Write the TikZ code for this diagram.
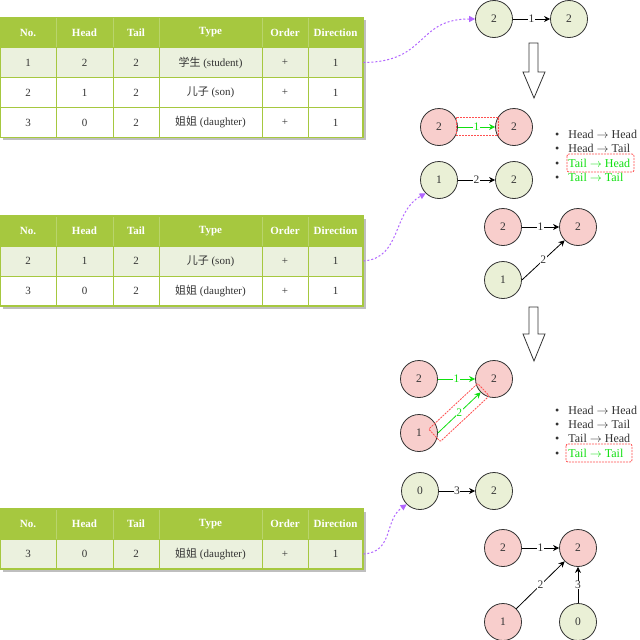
\documentclass[tikz,border=0pt]{standalone}
\usepackage{fontspec}
\setmainfont{Liberation Serif}
\newfontfamily\cjk{Noto Sans CJK SC}
\usetikzlibrary{arrows.meta,calc}
\definecolor{hdrgreen}{HTML}{A6C83F}
\definecolor{hdrline}{HTML}{B9D46C}
\definecolor{linegreen}{HTML}{A6C83F}
\definecolor{rowgreen}{HTML}{EBF1DE}
\definecolor{nodegreen}{HTML}{EAF0D6}
\definecolor{nodepink}{HTML}{F8CECC}
\definecolor{purp}{HTML}{B266FF}
\definecolor{brightgreen}{HTML}{11E011}
\definecolor{txtgray}{HTML}{333333}
\definecolor{boxred}{HTML}{FF5050}
\tikzset{
  cell/.style={rectangle, draw=linegreen, line width=0.8pt, minimum height=30pt, inner sep=0pt, font=\fontsize{11}{13}\selectfont, text=txtgray},
  hdr/.style={cell, draw=hdrline, fill=hdrgreen, text=white, font=\fontsize{11}{13}\selectfont\bfseries},
  rowa/.style={cell, fill=rowgreen},
  rowb/.style={cell, fill=white},
  tshadow/.style={fill=black!25},
  tborder/.style={draw=linegreen, line width=1.5pt},
  gn/.style={circle, draw=txtgray, line width=0.8pt, fill=nodegreen, minimum size=37pt, inner sep=0pt, font=\fontsize{11.5}{13}\selectfont, text=txtgray},
  pn/.style={gn, fill=nodepink},
  edge/.style={draw=black, line width=0.8pt, -{Stealth[length=6pt,width=6pt]}},
  gedge/.style={edge, draw=brightgreen},
  elab/.style={fill=white, inner sep=0.6pt, font=\fontsize{11.5}{13}\selectfont, text=txtgray},
  gelab/.style={elab, text=brightgreen},
  link/.style={draw=purp, line width=1pt, dash pattern=on 2pt off 2pt, -{Triangle[length=6pt,width=6pt]}},
  bigarrow/.style={draw=txtgray, fill=white, line width=0.8pt},
  item/.style={anchor=west, inner sep=0pt, font=\fontsize{12}{14}\selectfont, text=txtgray},
  redbox/.style={draw=boxred, dash pattern=on 2pt off 1pt, line width=0.8pt, rounded corners=2pt},
}
\newcommand{\trow}[9]{%
  \node[#3, minimum width=56pt] (#1-1) at (28,#2) {#4};
  \node[#3, minimum width=57pt] (#1-2) at (84.5,#2) {#5};
  \node[#3, minimum width=46pt] (#1-3) at (136,#2) {#6};
  \node[#3, minimum width=103pt] (#1-4) at (210.5,#2) {#7};
  \node[#3, minimum width=46pt] (#1-5) at (285,#2) {#8};
  \node[#3, minimum width=55pt] (#1-6) at (335.5,#2) {#9};
}
\newcommand{\blt}{\textbullet\hspace{9pt}}
\begin{document}
\begin{tikzpicture}[x=1pt,y=-1pt]
\useasboundingbox[fill=white] (0,0) rectangle (640,640);

% ---------- Table 1
\fill[tshadow] (3,20) rectangle (366,140);
\trow{a0}{32.5}{hdr}{No.}{Head}{Tail}{Type}{Order}{Direction}
\trow{a1}{62.5}{rowa}{1}{2}{2}{{\cjk 学生} (student)}{+}{1}
\trow{a2}{92.5}{rowb}{2}{1}{2}{{\cjk 儿子} (son)}{+}{1}
\trow{a3}{122.5}{rowb}{3}{0}{2}{{\cjk 姐姐} (daughter)}{+}{1}
\draw[tborder] (0,17.5) rectangle (363,137.5);

% ---------- Table 2
\fill[tshadow] (3,219) rectangle (366,309);
\trow{b0}{231}{hdr}{No.}{Head}{Tail}{Type}{Order}{Direction}
\trow{b1}{261}{rowa}{2}{1}{2}{{\cjk 儿子} (son)}{+}{1}
\trow{b2}{291}{rowb}{3}{0}{2}{{\cjk 姐姐} (daughter)}{+}{1}
\draw[tborder] (0,216) rectangle (363,306);

% ---------- Table 3
\fill[tshadow] (3,512) rectangle (366,572);
\trow{c0}{524}{hdr}{No.}{Head}{Tail}{Type}{Order}{Direction}
\trow{c1}{554}{rowa}{3}{0}{2}{{\cjk 姐姐} (daughter)}{+}{1}
\draw[tborder] (0,509) rectangle (363,569);

% ---------- Step 1 graph
\node[gn] (n1) at (494,19) {2};
\node[gn] (n2) at (569,19) {2};
\draw[edge] (n1) -- node[elab] {1} (n2);
\draw[link] (a1-6.east) .. controls (428,62) and (416,19) .. (n1.west);

\draw[bigarrow] (529,43) -- (538,43) -- (538,72) -- (545,72) -- (534,98) -- (523,72) -- (529,72) -- cycle;

% ---------- Step 2
\node[pn] (p1) at (439,127) {2};
\node[pn] (p2) at (514,127) {2};
\draw[gedge] (p1) -- node[gelab] {1} (p2);
\node[redbox, rectangle, rounded corners=0pt, minimum width=42pt, minimum height=18pt, inner sep=0pt] (pb) at ($(p1.east)!0.5!(p2.west)+(0.5,-1)$) {};

\node[gn] (g1) at (439,180) {1};
\node[gn] (g2) at (514,180) {2};
\draw[edge] (g1) -- node[elab] {2} (g2);
\draw[link] (b1-6.east) .. controls (402,258) and (392,212) .. (g1.south west);

\node[item] (l1a) at (555,134) {\blt Head $\rightarrow$ Head};
\node[item] (l1b) at (555,148) {\blt Head $\rightarrow$ Tail};
\node[item] (l1c) at (555,163) {\blt\textcolor{brightgreen}{Tail $\rightarrow$ Head}};
\node[item] (l1d) at (555,177) {\blt\textcolor{brightgreen}{Tail $\rightarrow$ Tail}};
\draw[redbox] (567,154) rectangle (634,172);

% ---------- Step 3
\node[pn] (q1) at (503,227) {2};
\node[pn] (q2) at (578,227) {2};
\node[gn] (q3) at (503,280) {1};
\draw[edge] (q1) -- node[elab] {1} (q2);
\draw[edge] (q3.east) -- node[elab] {2} (q2.south west);

\draw[bigarrow] (529,307) -- (538,307) -- (538,334) -- (545,334) -- (534,361) -- (523,334) -- (529,334) -- cycle;

% ---------- Step 4
\node[pn] (r1) at (419,379) {2};
\node[pn] (r2) at (494,379) {2};
\node[pn] (r3) at (419,433) {1};
\draw[gedge] (r1) -- node[gelab] {1} (r2);
\draw[gedge] (r3.east) -- node[gelab] {2} (r2.south west);
\node[redbox, rounded corners=1pt, rectangle, rotate=43, minimum width=67pt, minimum height=17pt, inner sep=0pt] (rb) at (459,412.5) {};

\node[item] (l2a) at (555,410) {\blt Head $\rightarrow$ Head};
\node[item] (l2b) at (555,424) {\blt Head $\rightarrow$ Tail};
\node[item] (l2c) at (555,438) {\blt Tail $\rightarrow$ Head};
\node[item] (l2d) at (555,453) {\blt\textcolor{brightgreen}{Tail $\rightarrow$ Tail}};
\draw[redbox] (566,444) rectangle (632,462);

% ---------- Step 5
\node[gn] (s1) at (420,491) {0};
\node[gn] (s2) at (494,491) {2};
\draw[edge] (s1) -- node[elab] {3} (s2);
\draw[link] (c1-6.east) .. controls (394,552) and (384,520) .. (s1.south west);

% ---------- Step 6
\node[pn] (u1) at (503,548) {2};
\node[pn] (u2) at (578,548) {2};
\node[pn] (u3) at (503,622) {1};
\node[gn] (u4) at (578,622) {0};
\draw[edge] (u1) -- node[elab] {1} (u2);
\draw[edge] (u3.north east) -- node[elab] {2} (u2.south west);
\draw[edge] (u4) -- node[elab] {3} (u2);
\end{tikzpicture}
\end{document}
